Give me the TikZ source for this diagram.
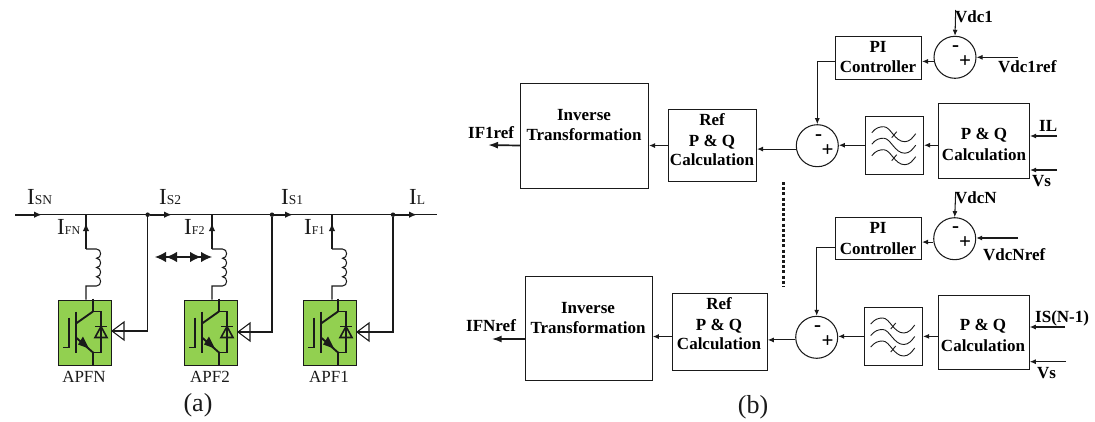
\documentclass[tikz,border=0pt]{standalone}
\usepackage{fontspec}
\setmainfont{Liberation Serif}
\usetikzlibrary{arrows.meta,calc}
\definecolor{apfgreen}{HTML}{92D050}
\definecolor{ink}{HTML}{1A1A1A}
\newcommand{\bigI}{\fontsize{23}{24}\selectfont I}
\newcommand{\smallS}[1]{\fontsize{13.5}{14}\selectfont #1}
\newcommand{\smallF}[1]{\fontsize{12}{14}\selectfont #1}
\tikzset{
  lin/.style={draw=ink,line width=1.05pt},
  arr/.style={lin,-{Latex[length=6pt,width=5pt]}},
  busarr/.style={draw=ink,line width=1.6pt,-{Latex[length=8pt,width=6.5pt]}},
  outarr/.style={draw=ink,line width=1.7pt,-{Latex[length=10pt,width=7pt]}},
  blk/.style={draw=ink,line width=1.05pt,inner sep=0pt,anchor=north west},
  apfbox/.style={draw=ink,fill=apfgreen,line width=1pt,inner sep=0pt,anchor=north west,minimum width=53pt,minimum height=65pt},
  sumc/.style={circle,draw=ink,line width=1.05pt,inner sep=0pt,minimum size=42pt},
  junc/.style={circle,fill=ink,inner sep=0pt,minimum size=4.5pt},
  lab/.style={inner sep=0pt,anchor=base west,text=ink},
  bt/.style={inner sep=0pt,anchor=base,text=black,font=\fontsize{17}{18}\selectfont\bfseries},
  btl/.style={inner sep=0pt,anchor=base west,text=black,font=\fontsize{17}{18}\selectfont\bfseries},
  sgn/.style={inner sep=0pt,anchor=center,text=black,font=\fontsize{21}{22}\selectfont\bfseries},
  apft/.style={inner sep=0pt,anchor=base,text=ink,font=\fontsize{17}{18}\selectfont},
  captext/.style={inner sep=0pt,anchor=base,text=ink,font=\fontsize{26}{28}\selectfont},
}
% IGBT + diode symbol, drawn in the box's local frame
\newcommand{\igbt}[1]{%
  \begin{scope}[shift={(#1.north west)},draw=ink,line width=1.9pt]
    \draw (35,-1) -- (35,12) -- (43,12) -- (43,53) -- (35,53);
    \draw (35,12) -- (18,24);
    \draw (18,38) -- (35,53) -- (35,66);
    \draw (18,12) -- (18,53);
    \draw (11,18) -- (11,48) -- (5,48);
    \fill[ink] (31,49) -- (20,45) -- (25,37) -- cycle;
    \draw[line width=1.6pt] (37,27) -- (49,27);
    \draw[line width=1.6pt,line join=miter] (43,27) -- (37,38) -- (49,38) -- cycle;
  \end{scope}}
% inductor from a point, going right, four bumps down, back left
\newcommand{\coil}[2]{%
  \draw[lin] (#1) -- ++(10.5,0)
    .. controls +(5.5,0) and +(5.5,0) .. ++(0,9.25)
    .. controls +(5.5,0) and +(5.5,0) .. ++(0,9.25)
    .. controls +(5.5,0) and +(5.5,0) .. ++(0,9.25)
    .. controls +(5.5,0) and +(5.5,0) .. ++(0,9.25)
    -- ++(-10.5,0) -- (#2);}
% filter symbol
\newcommand{\filt}[1]{%
  \begin{scope}[shift={(#1.north west)},draw=ink,line width=0.9pt]
    \foreach \dy in {0,11.5,23}{
      \draw (7,17+\dy) .. controls (11,12+\dy) and (15,11+\dy) .. (19,11+\dy)
        .. controls (26,11+\dy) and (30,26+\dy) .. (40,26+\dy)
        .. controls (45,26+\dy) and (48,22+\dy) .. (51,18+\dy);}
    \draw (27,22) -- (32,16);
    \draw (27,45) -- (32,39);
  \end{scope}}
\begin{document}
\begin{tikzpicture}[x=1pt,y=-1pt]
\useasboundingbox (0,0) rectangle (1095,421);
% ---------- (a)
\coordinate (bl) at (15,214.7);
\coordinate (br) at (437,214.7);
\draw[lin] (bl) -- (br);
\node[junc] (j2) at (147.7,214.7) {};
\node[junc] (j1) at (272,214.7) {};
\node[junc] (j0) at (393,214.7) {};
\coordinate (t3) at (42,214.7);
\coordinate (t2) at (172,214.7);
\coordinate (t1) at (293,214.7);
\coordinate (t0) at (417,214.7);
\draw[busarr] (bl) -- (t3);
\draw[busarr] (j2) -- (t2);
\draw[busarr] (j1) -- (t1);
\draw[busarr] (j0) -- (t0);
\node[apfbox] (an) at (58,299.5) {};
\node[apfbox] (a2) at (184,299.5) {};
\node[apfbox] (a1) at (303,299.5) {};
\igbt{an}\igbt{a2}\igbt{a1}
% feeders
\coordinate (bn) at (86,214.7); \coordinate (cn) at (86,249);
\coordinate (b2) at (212,214.7); \coordinate (c2) at (212,249);
\coordinate (b1) at (332,214.7); \coordinate (c1) at (332,249);
\coordinate (tn) at (86,223); \coordinate (tf2) at (212,223); \coordinate (tf1) at (332,223);
\foreach \pc/\pb/\pt in {cn/bn/tn,c2/b2/tf2,c1/b1/tf1}{
  \draw[lin] (\pc) -- (\pb);
  \draw[busarr] (\pc) -- (\pt);}
\coil{cn}{86,299.5}
\coil{c2}{212,299.5}
\coil{c1}{332,299.5}
% sensing with open triangles
\foreach \unitname/\jn/\yy in {an/j2/331,a2/j1/332,a1/j0/332}{
  \draw[lin] (\unitname.east |- 0,\yy) -- (\jn |- 0,\yy) -- (\jn);
  \draw[lin,fill=white,line join=miter] (\unitname.east |- 0,\yy) -- ++(12,-9) -- ++(0,18) -- cycle;
  \draw[lin] (\unitname.east |- 0,\yy) -- ++(14,0);
}
% double arrow
\coordinate (da) at (155,257);
\coordinate (db) at (212,257);
\draw[draw=ink,line width=1.2pt,{Latex[length=11pt,width=10.5pt]Latex[length=11pt,width=10.5pt]}-{Latex[length=11pt,width=10.5pt]Latex[length=11pt,width=10.5pt]}] (da) -- (db);
% labels
\node[lab] (lisn) at (27,204) {\bigI\smallS{SN}};
\node[lab] (lis2) at (159,204) {\bigI\smallS{S2}};
\node[lab] (lis1) at (281,204) {\bigI\smallS{S1}};
\node[lab] (lil) at (409,204) {\bigI\smallS{L}};
\node[lab] (lifn) at (57,234) {\bigI\smallF{FN}};
\node[lab] (lif2) at (184,234) {\bigI\smallF{F2}};
\node[lab] (lif1) at (304,234) {\bigI\smallF{F1}};
\node[apft] (tn1) at (84,382) {APFN};
\node[apft] (t21) at (210,382) {APF2};
\node[apft] (t11) at (329,382) {APF1};
\node[captext] (capa) at (198,411) {(a)};
\node[captext] (capb) at (753,413) {(b)};
% ---------- (b) upper
\node[blk,minimum width=128pt,minimum height=105pt] (inv1) at (520,83) {};
\node[blk,minimum width=88pt,minimum height=72pt] (ref1) at (668,109) {};
\node[blk,minimum width=86pt,minimum height=43pt] (pi1) at (835,36) {};
\node[blk,minimum width=58.3pt,minimum height=58pt] (f1) at (864.7,115.7) {};
\node[blk,minimum width=91pt,minimum height=75pt] (pq1) at (938,103) {};
\node[sumc] (s1) at (955,57.3) {};
\node[sumc] (s2) at (817.3,145.7) {};
\filt{f1}
\coordinate (v1) at (955.7,10);
\coordinate (vr1) at (1018,57.3);
\coordinate (il) at (1057,136);
\coordinate (vs1) at (1057,170);
\coordinate (o1) at (488,145);
\draw[arr] (v1) -- (s1.north);
\draw[arr] (vr1) -- (s1.east);
\draw[arr] (s1.191) -- (s1.191 -| pi1.east);
\draw[lin,-{Latex[length=6pt,width=5pt]}] ([yshift=-3.8pt]pi1.west) -| (s2.north);
\draw[arr] (f1.east -| pq1.west) -- (f1.east);
\draw[arr] (f1.west) -- (f1.west -| s2.east);
\draw[arr] (s2.189) -- (s2.189 -| ref1.east);
\draw[arr] (ref1.west) -- (ref1.west -| inv1.east);
\draw[outarr] (ref1.west -| inv1.west) -- (o1);
\draw[arr] (il) -- (il -| pq1.east);
\draw[arr] (vs1) -- (vs1 -| pq1.east);
\node[sgn] (m1) at (955.7,49) {-};
\node[sgn] (p1) at (965,62) {+};
\node[sgn] (m2) at (818.7,137.7) {-};
\node[sgn] (p2) at (827.7,150.7) {+};
\node[bt] at (584,120) {Inverse};
\node[bt] at (584,140) {Transformation};
\node[bt] at (712,125) {Ref};
\node[bt] at (712,146.7) {P \& Q};
\node[bt] at (712,165.7) {Calculation};
\node[bt] at (878,52.3) {PI};
\node[bt] at (878,72.3) {Controller};
\node[bt] at (984,139) {P \& Q};
\node[bt] at (984,160.3) {Calculation};
\node[btl] at (955,22.7) {Vdc1};
\node[btl] at (998,72.7) {Vdc1ref};
\node[btl] at (1039,131.7) {IL};
\node[btl] at (1032,186) {Vs};
\node[btl] at (468,138) {IF1ref};
% dotted separator
\coordinate (d1) at (783.3,182);
\coordinate (d2) at (783.3,287);
\draw[draw=ink,line width=3pt,dash pattern=on 3pt off 2.2pt] (d1) -- (d2);
% ---------- (b) lower
\node[blk,minimum width=126.7pt,minimum height=104pt] (inv2) at (525,276) {};
\node[blk,minimum width=95pt,minimum height=77.3pt] (ref2) at (671.7,292.7) {};
\node[blk,minimum width=86pt,minimum height=42pt] (pi2) at (835,217) {};
\node[blk,minimum width=58.3pt,minimum height=57.7pt] (f2) at (863.7,307) {};
\node[blk,minimum width=91pt,minimum height=74.3pt] (pq2) at (937.7,294.7) {};
\node[sumc] (s3) at (954.7,238.7) {};
\node[sumc] (s4) at (816.7,337.3) {};
\filt{f2}
\coordinate (v2) at (955.7,192);
\coordinate (vr2) at (1018,238);
\coordinate (isn) at (1065,327);
\coordinate (vs2) at (1066,361.7);
\coordinate (o2) at (491.7,339);
\draw[arr] (v2) -- (s3.north);
\draw[arr] (vr2) -- (vr2 -| s3.east);
\draw[arr] (s3.189) -- (s3.189 -| pi2.east);
\draw[lin,-{Latex[length=6pt,width=5pt]}] ([yshift=-9.3pt]pi2.west) -| (s4.north);
\draw[arr] (f2.east -| pq2.west) -- (f2.east);
\draw[arr] (f2.west) -- (f2.west -| s4.east);
\draw[arr] (s4.187) -- (s4.187 -| ref2.east);
\draw[arr] ([yshift=-4.65pt]ref2.west) -- ([yshift=-4.65pt]ref2.west -| inv2.east);
\draw[outarr] (o2 -| inv2.west) -- (o2);
\draw[arr] (isn) -- (isn -| pq2.east);
\draw[arr] (vs2) -- (vs2 -| pq2.east);
\node[sgn] (m3) at (955.7,230) {-};
\node[sgn] (p3) at (965,243) {+};
\node[sgn] (m4) at (817.7,329) {-};
\node[sgn] (p4) at (827.7,342) {+};
\node[bt] at (588,313.3) {Inverse};
\node[bt] at (588,333.3) {Transformation};
\node[bt] at (719,309) {Ref};
\node[bt] at (719,330) {P \& Q};
\node[bt] at (719,349.3) {Calculation};
\node[bt] at (878,233.3) {PI};
\node[bt] at (878,254) {Controller};
\node[bt] at (983,330) {P \& Q};
\node[bt] at (983,351.7) {Calculation};
\node[btl] at (955,203) {VdcN};
\node[btl] at (983,260) {VdcNref};
\node[btl] at (1035,322) {IS(N-1)};
\node[btl] at (1037,378) {Vs};
\node[btl] at (466,331) {IFNref};
\end{tikzpicture}
\end{document}
